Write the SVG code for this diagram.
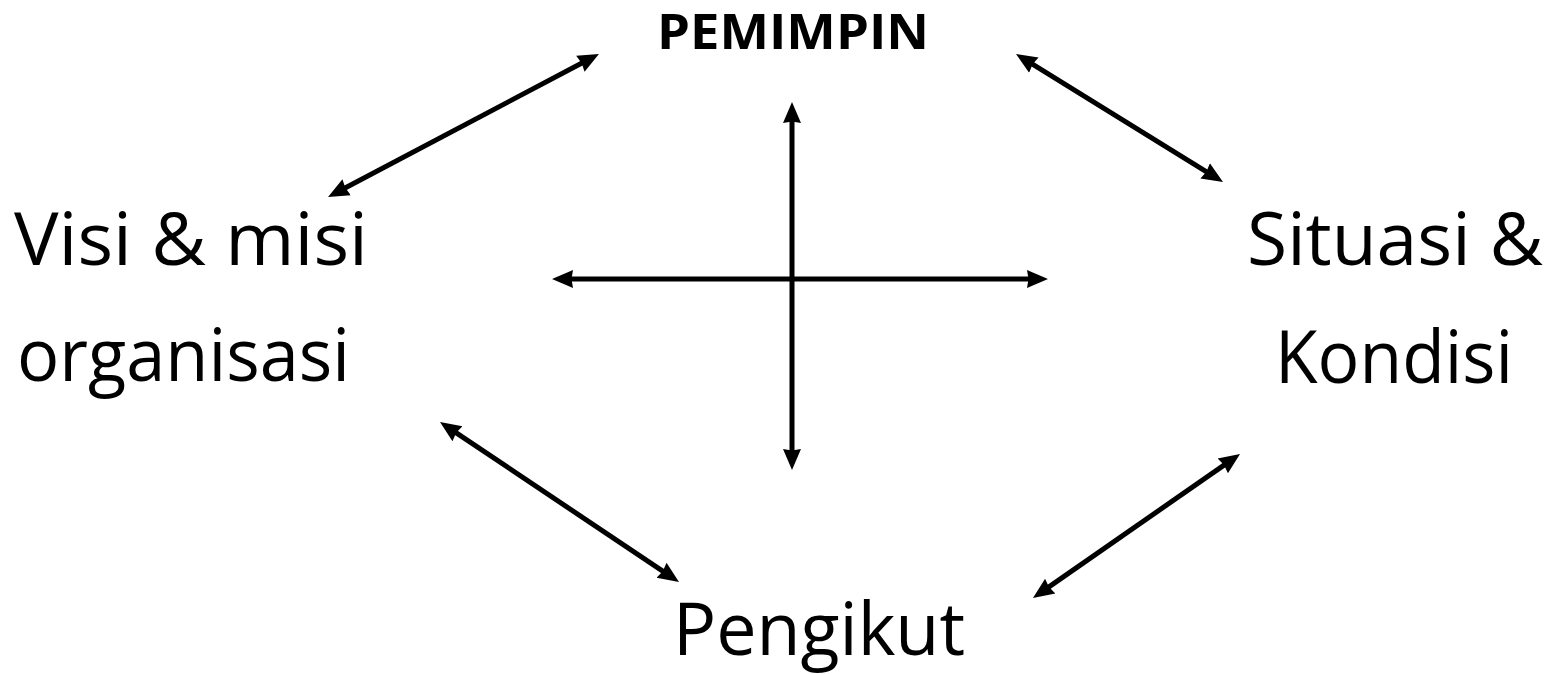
<svg xmlns="http://www.w3.org/2000/svg" width="1559" height="675" viewBox="0 0 1559 675">
<style>
.t{font-family:"Open Sans","Liberation Sans",sans-serif;font-size:74px;fill:#000}
.b{font-family:"Open Sans","Liberation Sans",sans-serif;font-size:49px;font-weight:bold;fill:#000}
.c{stroke:#000;stroke-width:5;fill:none;marker-start:url(#ah);marker-end:url(#ah)}
</style>
<defs>
<marker id="ah" markerUnits="userSpaceOnUse" markerWidth="22" markerHeight="20" viewBox="0 0 22 20" refX="5" refY="10" orient="auto-start-reverse">
<path d="M0,1 L21,10 L0,19 L1.5,10 Z" fill="#000"/>
</marker>
</defs>
<rect width="1559" height="675" fill="#fff"/>
<g id="connectors">
<line class="c" x1="342.2" y1="189.5" x2="584.8" y2="61.5"/>
<line class="c" x1="1029.6" y1="62.4" x2="1209.4" y2="173.6"/>
<line class="c" x1="792" y1="118" x2="792" y2="454"/>
<line class="c" x1="568" y1="279" x2="1032" y2="279"/>
<line class="c" x1="453.3" y1="430.9" x2="665.7" y2="573.1"/>
<line class="c" x1="1226.9" y1="463.1" x2="1046.1" y2="588.9"/>
</g>
<g id="pemimpin"><text class="b" x="657" y="49" textLength="272" lengthAdjust="spacingAndGlyphs">PEMIMPIN</text></g>
<g id="visi">
<text class="t" x="14" y="265" textLength="354" lengthAdjust="spacingAndGlyphs">Visi &amp; misi</text>
<text class="t" x="17" y="381" textLength="333" lengthAdjust="spacingAndGlyphs">organisasi</text>
</g>
<g id="situasi">
<text class="t" x="1247" y="265" textLength="296" lengthAdjust="spacingAndGlyphs">Situasi &amp;</text>
<text class="t" x="1275" y="383" textLength="238" lengthAdjust="spacingAndGlyphs">Kondisi</text>
</g>
<g id="pengikut"><text class="t" x="673" y="655" textLength="292" lengthAdjust="spacingAndGlyphs">Pengikut</text></g>
</svg>
